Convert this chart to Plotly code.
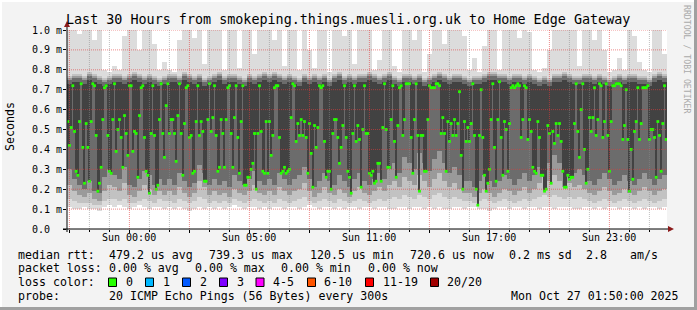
import plotly.graph_objects as go

# ---------------- data (values in ms) ----------------
# per 15-minute column: top of light smoke (max), top of dense smoke, bottom of smoke,
# bottom of light-grey band, bottom of mid-grey band, bottom of dark-grey band
smoke_max = [1.02,1.02,0.98,1.02,1.02,0.95,1.02,0.80,0.79,0.82, 0.80,0.97,1.02,1.02,0.90,1.02,1.02,0.93,0.80,0.84,
             0.80,0.79,0.95,1.02,1.02,0.96,1.02,0.83,1.02,1.02, 1.02,0.80,1.02,1.02,0.81,1.02,1.02,0.88,1.02,1.02,
             1.02,0.95,1.02,0.82,1.02,1.02,0.80,1.02,0.90,0.81, 1.02,1.02,0.79,1.02,1.02,0.97,1.02,0.83,1.02,1.02,
             1.02,0.80,0.85,1.02,1.02,0.82,0.79,1.02,1.02,0.95, 1.02,0.79,0.88,1.02,1.02,0.93,1.02,1.02,1.02,0.97,
             0.80,0.86,0.79,0.92,1.02,1.02,0.80,1.02,1.02,1.02, 0.96,1.02,0.99,0.80,0.79,0.81,0.90,1.02,1.02,1.02,
             1.02,1.02,0.82,1.02,1.02,0.95,1.02,0.90,0.79,0.80, 0.86,0.80,1.02,0.97,0.84,0.80,0.79,1.02,1.02,0.88]
smoke_top = [0.77,0.78,0.78,0.77,0.79,0.78,0.77,0.76,0.77,0.78, 0.78,0.77,0.78,0.79,0.78,0.77,0.78,0.77,0.76,0.77,
             0.78,0.78,0.77,0.79,0.78,0.77,0.78,0.76,0.77,0.78, 0.79,0.77,0.78,0.78,0.77,0.76,0.78,0.77,0.78,0.79,
             0.78,0.79,0.78,0.77,0.78,0.77,0.76,0.78,0.77,0.78, 0.77,0.78,0.76,0.78,0.79,0.77,0.78,0.77,0.78,0.78,
             0.79,0.78,0.77,0.78,0.79,0.77,0.76,0.78,0.78,0.77, 0.78,0.76,0.77,0.78,0.79,0.78,0.77,0.78,0.78,0.77,
             0.76,0.77,0.77,0.78,0.79,0.79,0.78,0.78,0.77,0.78, 0.78,0.77,0.78,0.77,0.76,0.77,0.76,0.78,0.78,0.79,
             0.78,0.77,0.77,0.78,0.78,0.77,0.78,0.77,0.76,0.77, 0.78,0.77,0.78,0.78,0.77,0.77,0.76,0.78,0.79,0.78]
smoke_lo = [0.11,0.10,0.10,0.11,0.10,0.10,0.09,0.11,0.12,0.11, 0.12,0.11,0.10,0.11,0.12,0.11,0.10,0.11,0.11,0.10,
            0.11,0.10,0.11,0.10,0.09,0.10,0.11,0.10,0.11,0.10, 0.11,0.10,0.11,0.12,0.11,0.10,0.11,0.11,0.10,0.11,
            0.10,0.11,0.11,0.10,0.11,0.11,0.10,0.11,0.12,0.11, 0.10,0.11,0.11,0.10,0.11,0.10,0.11,0.11,0.10,0.11,
            0.11,0.10,0.11,0.11,0.10,0.10,0.11,0.11,0.10,0.11, 0.11,0.10,0.11,0.10,0.11,0.10,0.10,0.11,0.11,0.10,
            0.11,0.11,0.10,0.10,0.09,0.10,0.11,0.11,0.10,0.11, 0.11,0.10,0.11,0.11,0.10,0.11,0.11,0.10,0.11,0.11,
            0.11,0.10,0.10,0.11,0.11,0.10,0.11,0.10,0.11,0.11, 0.10,0.11,0.11,0.10,0.11,0.10,0.11,0.11,0.10,0.11]
smoke_lo2 = [0.15,0.14,0.13,0.13,0.13,0.12,0.12,0.14,0.15,0.15, 0.14,0.15,0.13,0.13,0.14,0.15,0.14,0.13,0.15,0.14,
             0.14,0.13,0.15,0.14,0.13,0.14,0.16,0.15,0.13,0.14, 0.13,0.14,0.13,0.15,0.14,0.13,0.14,0.15,0.14,0.13,
             0.14,0.13,0.15,0.14,0.13,0.14,0.15,0.16,0.14,0.13, 0.14,0.15,0.14,0.13,0.15,0.14,0.13,0.14,0.15,0.14,
             0.13,0.14,0.15,0.14,0.15,0.16,0.15,0.17,0.16,0.15, 0.17,0.16,0.15,0.17,0.18,0.16,0.15,0.16,0.15,0.14,
             0.14,0.13,0.14,0.15,0.14,0.13,0.14,0.15,0.14,0.13, 0.14,0.15,0.14,0.15,0.16,0.17,0.16,0.17,0.16,0.15,
             0.16,0.15,0.16,0.15,0.14,0.13,0.14,0.15,0.14,0.13, 0.14,0.15,0.14,0.13,0.14,0.15,0.14,0.13,0.14,0.15]
smoke_mid = [0.22,0.19,0.17,0.16,0.18,0.15,0.14,0.19,0.22,0.21, 0.19,0.23,0.17,0.16,0.19,0.22,0.20,0.17,0.19,0.17,
             0.19,0.17,0.21,0.18,0.16,0.18,0.24,0.21,0.17,0.19, 0.17,0.18,0.16,0.20,0.18,0.17,0.19,0.22,0.18,0.17,
             0.19,0.17,0.21,0.19,0.17,0.19,0.20,0.23,0.19,0.16, 0.18,0.21,0.18,0.17,0.20,0.18,0.16,0.19,0.21,0.18,
             0.17,0.19,0.21,0.19,0.22,0.24,0.21,0.26,0.24,0.22, 0.27,0.24,0.21,0.25,0.28,0.24,0.21,0.23,0.20,0.18,
             0.18,0.16,0.18,0.20,0.18,0.16,0.18,0.20,0.19,0.17, 0.19,0.21,0.18,0.20,0.23,0.26,0.24,0.27,0.24,0.21,
             0.23,0.21,0.22,0.20,0.18,0.17,0.19,0.21,0.19,0.17, 0.18,0.20,0.18,0.17,0.19,0.21,0.19,0.17,0.19,0.20]
smoke_mid2 = [0.30,0.25,0.22,0.20,0.24,0.19,0.18,0.26,0.30,0.27, 0.25,0.31,0.22,0.21,0.25,0.29,0.27,0.22,0.25,0.22,
              0.25,0.22,0.28,0.24,0.21,0.23,0.32,0.28,0.22,0.25, 0.22,0.24,0.21,0.27,0.24,0.22,0.25,0.29,0.24,0.22,
              0.25,0.22,0.28,0.25,0.22,0.25,0.27,0.31,0.25,0.21, 0.24,0.28,0.24,0.22,0.27,0.24,0.21,0.25,0.28,0.24,
              0.22,0.25,0.28,0.25,0.30,0.33,0.28,0.36,0.33,0.30, 0.38,0.33,0.29,0.35,0.39,0.33,0.28,0.31,0.27,0.24,
              0.24,0.21,0.24,0.27,0.24,0.21,0.24,0.27,0.25,0.22, 0.25,0.28,0.24,0.27,0.31,0.36,0.33,0.37,0.33,0.28,
              0.31,0.28,0.30,0.27,0.24,0.22,0.25,0.28,0.25,0.22, 0.24,0.27,0.24,0.22,0.25,0.28,0.25,0.22,0.25,0.27]
# median rtt per 5-minute step (360 steps)
median_rtt = [
 0.54,0.42,0.51,0.72,0.49,0.29,0.27,0.54,0.73,0.41,0.23,0.53,0.41,0.24,0.54,0.73,0.72,0.47,0.19,0.23,
 0.31,0.55,0.71,0.72,0.47,0.29,0.28,0.55,0.73,0.39,0.50,0.55,0.46,0.31,0.57,0.48,0.37,0.72,0.72,0.39,
 0.49,0.48,0.26,0.57,0.71,0.72,0.46,0.29,0.27,0.18,0.48,0.72,0.47,0.20,0.22,0.55,0.73,0.48,0.36,0.62,
 0.73,0.48,0.55,0.55,0.48,0.34,0.57,0.73,0.48,0.27,0.53,0.71,0.72,0.46,0.47,0.28,0.29,0.54,0.72,0.47,
 0.54,0.49,0.24,0.24,0.55,0.73,0.49,0.56,0.72,0.47,0.29,0.31,0.55,0.48,0.31,0.55,0.71,0.72,0.48,0.31,
 0.56,0.72,0.46,0.28,0.54,0.72,0.22,0.22,0.26,0.26,0.30,0.33,0.48,0.20,0.48,0.72,0.49,0.29,0.28,0.54,
 0.28,0.54,0.37,0.47,0.71,0.72,0.72,0.46,0.28,0.29,0.31,0.28,0.29,0.30,0.56,0.73,0.72,0.44,0.53,0.47,
 0.55,0.47,0.54,0.46,0.28,0.53,0.38,0.21,0.52,0.41,0.51,0.72,0.71,0.72,0.44,0.26,0.29,0.29,0.20,0.48,
 0.55,0.55,0.46,0.33,0.41,0.52,0.72,0.46,0.29,0.26,0.18,0.48,0.72,0.44,0.52,0.45,0.21,0.50,0.72,0.48,
 0.48,0.28,0.27,0.29,0.23,0.24,0.33,0.33,0.24,0.51,0.73,0.50,0.31,0.31,0.55,0.72,0.44,0.26,0.52,0.71,
 0.72,0.47,0.55,0.73,0.73,0.73,0.46,0.28,0.55,0.73,0.47,0.19,0.47,0.47,0.29,0.29,0.55,0.72,0.71,0.71,
 0.71,0.73,0.73,0.72,0.48,0.56,0.48,0.29,0.54,0.44,0.53,0.47,0.55,0.47,0.53,0.69,0.37,0.20,0.54,0.44,
 0.51,0.44,0.53,0.73,0.47,0.20,0.12,0.47,0.70,0.46,0.27,0.19,0.23,0.30,0.55,0.73,0.41,0.24,0.55,0.74,
 0.46,0.27,0.54,0.50,0.29,0.53,0.71,0.72,0.71,0.72,0.73,0.72,0.46,0.55,0.72,0.71,0.45,0.55,0.49,0.31,
 0.29,0.28,0.54,0.46,0.27,0.27,0.19,0.20,0.52,0.48,0.23,0.49,0.43,0.53,0.47,0.53,0.44,0.29,0.21,0.21,
 0.27,0.25,0.26,0.26,0.53,0.73,0.49,0.36,0.60,0.73,0.40,0.23,0.30,0.56,0.49,0.56,0.71,0.47,0.55,0.73,
 0.72,0.46,0.54,0.73,0.47,0.29,0.54,0.72,0.72,0.73,0.73,0.73,0.72,0.45,0.52,0.70,0.45,0.19,0.40,0.25,
 0.49,0.54,0.71,0.45,0.53,0.71,0.71,0.71,0.72,0.45,0.50,0.50,0.46,0.26,0.54,0.47,0.29,0.53,0.72,0.45]

x_tick_labels = ["", "Sun 00:00", "", "Sun 05:00", "", "Sun 11:00", "", "Sun 17:00", "", "Sun 23:00"]
y_ticks = [0.0, 0.1, 0.2, 0.3, 0.4, 0.5, 0.6, 0.7, 0.8, 0.9, 1.0]
y_tick_labels = ["0.0", "0.1 m", "0.2 m", "0.3 m", "0.4 m", "0.5 m", "0.6 m", "0.7 m", "0.8 m", "0.9 m", "1.0 m"]
loss_labels = ["0", "1", "2", "3", "4-5", "6-10", "11-19", "20/20"]
loss_colors = ["#26ff00", "#00b8ff", "#0059ff", "#7e00ff", "#ff00ff", "#ff5500", "#ff0000", "#a10000"]

# ---------------- geometry ----------------
W, H = 697, 310
PL, PR, PT, PB = 67, 667, 30, 229
HOURS = 30.0
COL_H = HOURS / len(smoke_max)
STEP_H = HOURS / len(median_rtt)
GRID0 = 0.12
MONO = "DejaVu Sans Mono"

def px(x):
    return (x - PL) / (PR - PL)

def py(y):
    return (PB - y) / (PB - PT)

col_x = [(i + 0.5) * COL_H for i in range(len(smoke_max))]
step_x = [(k + 0.5) * STEP_H for k in range(len(median_rtt))]

fig = go.Figure()

def band(lo, hi, color, width):
    fig.add_trace(go.Bar(
        x=col_x, y=[h - l for l, h in zip(lo, hi)], base=lo, width=width,
        marker=dict(color=color, line=dict(width=0)), hoverinfo="skip", showlegend=False))

band(smoke_lo, smoke_max, "#dcdcdc", COL_H * 1.02)
band(smoke_lo2, smoke_top, "#c2c2c2", COL_H * 1.02)
band(smoke_mid, [t - 0.01 for t in smoke_top], "#9a9a9a", COL_H * 1.02)
band(smoke_mid2, [t - 0.022 for t in smoke_top], "#6c6c6c", COL_H * 1.02)

# dark core from median to top of core
core_top = [smoke_top[int(k * STEP_H / COL_H)] - 0.04 for k in range(len(median_rtt))]
fig.add_trace(go.Bar(
    x=step_x, y=[max(t - m, 0.004) for m, t in zip(median_rtt, core_top)], base=median_rtt,
    width=STEP_H * 0.95, marker=dict(color="#424242", line=dict(width=0)),
    hoverinfo="skip", showlegend=False))

fig.add_trace(go.Scatter(
    x=step_x, y=median_rtt, mode="markers",
    marker=dict(symbol="square", size=2.8, color="#26ff00", line=dict(width=0)),
    hoverinfo="skip", showlegend=False))

shapes = []
# grid (drawn above the smoke, like rrdtool)
for v in y_ticks[1:]:
    shapes.append(dict(type="line", xref="x", yref="y", x0=0, x1=HOURS, y0=v, y1=v,
                       line=dict(color="rgba(225,60,60,0.6)", width=1, dash="1px,1px"), layer="above"))
h = GRID0
i = 0
while h < HOURS:
    major = (i % 3 == 0)
    shapes.append(dict(type="line", xref="x", yref="y", x0=h, x1=h, y0=0, y1=1.0,
                       line=dict(color="rgba(225,60,60,0.6)" if major else "rgba(140,140,140,0.55)",
                                 width=1, dash="1px,1px"), layer="above"))
    h += 1.0
    i += 1

# axis lines and arrows
shapes.append(dict(type="line", xref="paper", yref="paper", x0=px(63), x1=px(669), y0=py(PB), y1=py(PB),
                   line=dict(color="black", width=1), layer="above"))
shapes.append(dict(type="line", xref="paper", yref="paper", x0=0, x1=0, y0=py(232), y1=py(24),
                   line=dict(color="black", width=1), layer="above"))
shapes.append(dict(type="path", xref="paper", yref="paper",
                   path=f"M {px(67)} {py(21)} L {px(64)} {py(27)} L {px(70)} {py(27)} Z",
                   fillcolor="#8b1a1a", line=dict(width=0), layer="above"))
shapes.append(dict(type="path", xref="paper", yref="paper",
                   path=f"M {px(674)} {py(PB)} L {px(668)} {py(PB-3)} L {px(668)} {py(PB+3)} Z",
                   fillcolor="#8b1a1a", line=dict(width=0), layer="above"))

# frame
shapes.append(dict(type="rect", xref="paper", yref="paper", x0=px(694), x1=px(697.5), y0=py(310.5), y1=py(-0.5),
                   fillcolor="#a0a0a0", line=dict(width=0), layer="above"))
shapes.append(dict(type="rect", xref="paper", yref="paper", x0=px(-0.5), x1=px(697.5), y0=py(310.5), y1=py(307),
                   fillcolor="#a0a0a0", line=dict(width=0), layer="above"))
shapes.append(dict(type="rect", xref="paper", yref="paper", x0=px(-0.5), x1=px(694), y0=py(2), y1=py(-0.5),
                   fillcolor="#ffffff", line=dict(width=0), layer="above"))
shapes.append(dict(type="rect", xref="paper", yref="paper", x0=px(-0.5), x1=px(2), y0=py(307), y1=py(-0.5),
                   fillcolor="#ffffff", line=dict(width=0), layer="above"))

# loss colour boxes
box_x = [108.5, 145.5, 182.5, 219.5, 256, 307.5, 365.5, 430.5]
for bx, c in zip(box_x, loss_colors):
    shapes.append(dict(type="rect", xref="paper", yref="paper", x0=px(bx), x1=px(bx + 8),
                       y0=py(286.5), y1=py(278), fillcolor=c, line=dict(color="black", width=1)))

ann = []
def text(x, y, s, size=11.6, anchor="left", color="#000000", angle=0):
    ann.append(dict(xref="paper", yref="paper", x=px(x), y=py(y), text=s, showarrow=False,
                    xanchor=anchor, yanchor="middle", textangle=angle,
                    font=dict(family=MONO, size=size, color=color)))

text(347.5, 19, "Last 30 Hours from smokeping.things.muesli.org.uk to Home Edge Gateway", size=13.4, anchor="center")
text(10, 127, "Seconds", size=11.6, anchor="center", angle=-90)
text(687, 59, "RRDTOOL / TOBI OETIKER", size=8.2, anchor="center", color="#aaaaaa", angle=90)

# axis tick labels
tickvals_x = [GRID0 + 3 * k for k in range(len(x_tick_labels))]
for tv, s in zip(tickvals_x, x_tick_labels):
    if s:
        ann.append(dict(xref="x", yref="paper", x=tv, y=py(237.6), text=s, showarrow=False,
                        xanchor="center", yanchor="middle", font=dict(family=MONO, size=10, color="#000000")))
for tv, s in zip(y_ticks, y_tick_labels):
    ann.append(dict(xref="paper", yref="y", x=px(29.5), y=tv, text=s, showarrow=False,
                    xanchor="left", yanchor="middle", font=dict(family=MONO, size=10, color="#000000")))

r1, r2, r3, r4 = 254.5, 268.3, 282.3, 295.8
text(16, r1, "median rtt:")
text(107, r1, "479.2 us avg")
text(207.3, r1, "739.3 us max")
text(308.3, r1, "120.5 us min")
text(407.7, r1, "720.6 us now")
text(507.3, r1, "0.2 ms sd")
text(584.3, r1, "2.8")
text(628.3, r1, "am/s")
text(16, r2, "packet loss:")
text(107.3, r2, "0.00 % avg")
text(193.3, r2, "0.00 % max")
text(279.3, r2, "0.00 % min")
text(365.7, r2, "0.00 % now")
text(16, r3, "loss color:")
lab_x = [124, 161, 198, 235, 270.7, 322.3, 380.7, 445]
for lx, s in zip(lab_x, loss_labels):
    text(lx, r3, s)
text(16, r4, "probe:")
text(107, r4, "20 ICMP Echo Pings (56 Bytes) every 300s")
text(681, r4, "Mon Oct 27 01:50:00 2025", anchor="right")

fig.update_layout(
    width=W, height=H,
    margin=dict(l=PL, r=W - PR, t=PT, b=H - PB, pad=0),
    paper_bgcolor="#f3f3f3", plot_bgcolor="#ffffff",
    barmode="overlay", bargap=0,
    showlegend=False,
    shapes=shapes, annotations=ann,
    xaxis=dict(range=[0, HOURS], showgrid=False, zeroline=False, showline=False,
               tickmode="array", tickvals=tickvals_x, showticklabels=False,
               ticks="outside", ticklen=3, tickcolor="black", tickwidth=1,
               minor=dict(tickmode="array", tickvals=[GRID0 + k for k in range(30)],
                          ticks="outside", ticklen=2, tickcolor="black", showgrid=False),
               fixedrange=True),
    yaxis=dict(range=[0, 1.0], showgrid=False, zeroline=False, showline=False,
               tickmode="array", tickvals=y_ticks, showticklabels=False,
               ticks="outside", ticklen=3, tickcolor="black", tickwidth=1,
               fixedrange=True),
)

fig.write_html("out.html")
